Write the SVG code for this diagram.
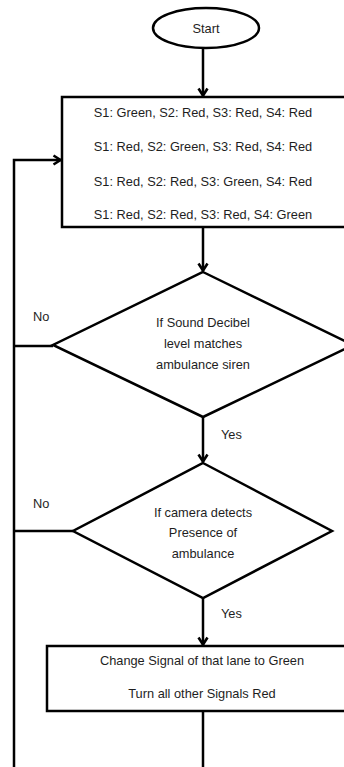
<svg xmlns="http://www.w3.org/2000/svg" width="344" height="767" viewBox="0 0 344 767">
<style>
.s{fill:#fff;stroke:#000;stroke-width:2.5}
.c{fill:none;stroke:#000;stroke-width:2.5}
.t{font-family:"Liberation Sans",Arial,sans-serif;font-size:12.8px;fill:#1e1e1e;text-anchor:middle}
.l{font-family:"Liberation Sans",Arial,sans-serif;font-size:12.8px;fill:#1e1e1e}
</style>
<defs>
<marker id="ah" viewBox="0 0 12 12" refX="10.5" refY="6" markerWidth="12" markerHeight="12" markerUnits="userSpaceOnUse" orient="auto">
<polyline points="3,1.5 10,6 3,10.5" fill="none" stroke="#000" stroke-width="2.6"/>
</marker>
</defs>
<g id="connectors">
<line class="c" x1="203" y1="48" x2="203" y2="96" marker-end="url(#ah)"/>
<line class="c" x1="203" y1="227" x2="203" y2="271" marker-end="url(#ah)"/>
<line class="c" x1="203" y1="417" x2="203" y2="462" marker-end="url(#ah)"/>
<line class="c" x1="203" y1="598" x2="203" y2="645" marker-end="url(#ah)"/>
<line class="c" x1="203" y1="711" x2="203" y2="767"/>
<polyline class="c" points="14,767 14,160 61,160" marker-end="url(#ah)"/>
<line class="c" x1="14" y1="346" x2="53" y2="346"/>
<line class="c" x1="14" y1="531" x2="73" y2="531"/>
<text class="l" x="33" y="321">No</text>
<text class="l" x="33" y="508">No</text>
<text class="l" x="221" y="439">Yes</text>
<text class="l" x="221" y="618">Yes</text>
</g>
<g id="start">
<ellipse class="s" cx="206" cy="28" rx="53" ry="20"/>
<text class="t" x="206" y="32.5">Start</text>
</g>
<g id="init">
<rect class="s" x="62" y="97" width="300" height="130"/>
<text class="t" x="203" y="117">S1: Green, S2: Red, S3: Red, S4: Red</text>
<text class="t" x="203" y="151">S1: Red, S2: Green, S3: Red, S4: Red</text>
<text class="t" x="203" y="186">S1: Red, S2: Red, S3: Green, S4: Red</text>
<text class="t" x="203" y="219">S1: Red, S2: Red, S3: Red, S4: Green</text>
</g>
<g id="sound">
<polygon class="s" points="203,272 353,345 203,417 53,345"/>
<text class="t" x="203" y="327">If Sound Decibel</text>
<text class="t" x="203" y="348">level matches</text>
<text class="t" x="203" y="369">ambulance siren</text>
</g>
<g id="camera">
<polygon class="s" points="203,463 332,531 203,598 73,531"/>
<text class="t" x="203" y="517">If camera detects</text>
<text class="t" x="203" y="537">Presence of</text>
<text class="t" x="203" y="558">ambulance</text>
</g>
<g id="change">
<rect class="s" x="47" y="646" width="315" height="65"/>
<text class="t" x="202" y="665">Change Signal of that lane to Green</text>
<text class="t" x="202" y="698">Turn all other Signals Red</text>
</g>
</svg>
